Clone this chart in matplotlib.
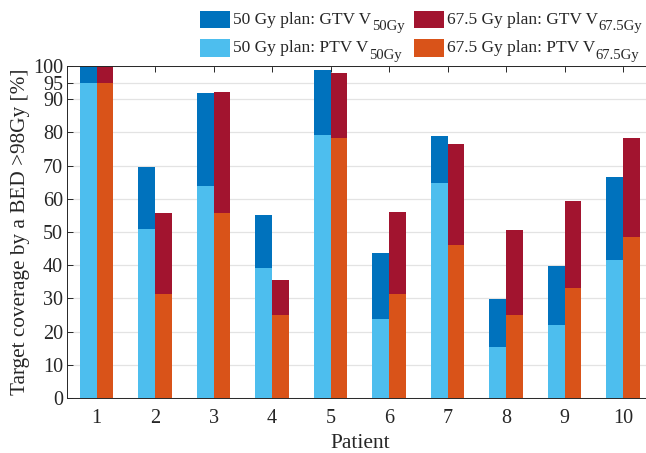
import matplotlib
matplotlib.use("Agg")
import matplotlib.pyplot as plt
import numpy as np
from matplotlib.patches import Rectangle

plt.rcParams.update({
    'font.family': 'Liberation Serif',
    'font.size': 12,
})

# data
patients = [1, 2, 3, 4, 5, 6, 7, 8, 9, 10]
gtv_50 = [100, 69.5, 91.8, 55.2, 98.9, 43.8, 78.9, 29.9, 39.8, 66.7]
ptv_50 = [95, 50.8, 64.0, 39.2, 79.2, 23.8, 64.7, 15.4, 22.1, 41.6]
gtv_675 = [100, 55.6, 92.3, 35.6, 97.8, 56.0, 76.4, 50.6, 59.3, 78.4]
ptv_675 = [95, 31.4, 55.6, 24.9, 78.4, 31.4, 46.0, 25.1, 33.1, 48.5]
y_ticks = [0, 10, 20, 30, 40, 50, 60, 70, 80, 90, 95, 100]

legend_main = ['50 Gy plan: GTV V', '50 Gy plan: PTV V',
               '67.5 Gy plan: GTV V', '67.5 Gy plan: PTV V']
legend_sub = ['50Gy', '50Gy', '67.5Gy', '67.5Gy']

C_GTV50 = '#0072BD'
C_PTV50 = '#4DBEEE'
C_GTV675 = '#A2142F'
C_PTV675 = '#D95319'
TXT = '#262626'

W, H = 646, 453
fig = plt.figure(figsize=(W / 100, H / 100), dpi=100)
ax = fig.add_axes([67.3 / W, 55 / H, 585 / W, 332 / H])

x = np.array(patients)
bw = 0.285
ax.bar(x - bw / 2, gtv_50, bw, color=C_GTV50, zorder=2)
ax.bar(x - bw / 2, ptv_50, bw, color=C_PTV50, zorder=3)
ax.bar(x + bw / 2, gtv_675, bw, color=C_GTV675, zorder=2)
ax.bar(x + bw / 2, ptv_675, bw, color=C_PTV675, zorder=3)

ax.set_xlim(0.5, 10.5)
ax.set_ylim(0, 100)
ax.set_xticks(patients)
ax.set_yticks(y_ticks)
ax.yaxis.grid(True, color='#e3e3e3', linewidth=0.9, zorder=0)
ax.set_axisbelow(True)
ax.tick_params(direction='in', top=True, right=False, length=4,
               colors=TXT, labelsize=14.5, width=0.7)
ax.tick_params(axis='y', pad=3)
ax.tick_params(axis='x', pad=8)
for s in ax.spines.values():
    s.set_color(TXT)
    s.set_linewidth(0.7)

ax.set_ylabel('Target coverage by a BED >98Gy [%]', fontsize=15.3,
              color=TXT, labelpad=2)
ax.set_xlabel('Patient', fontsize=15.5, color=TXT, labelpad=4)

# manual legend (two columns above the axes), pixel layout
colors = [C_GTV50, C_PTV50, C_GTV675, C_PTV675]
col_x = [200, 200, 414, 414]
row_top = [10.7, 39, 10.7, 39]
row_base = [23.8, 52.3, 23.8, 52.3]
fig.canvas.draw()
renderer = fig.canvas.get_renderer()
for i in range(4):
    fig.add_artist(Rectangle((col_x[i] / W, 1 - (row_top[i] + 17.6) / H),
                             30 / W, 17.6 / H, transform=fig.transFigure,
                             facecolor=colors[i], edgecolor='none'))
    t = fig.text((col_x[i] + 33) / W, 1 - row_base[i] / H, legend_main[i],
                 fontsize=12.5, color=TXT, va='baseline', ha='left')
    bb = t.get_window_extent(renderer)
    fig.text(bb.x1 / W + 0.5 / W, 1 - (row_base[i] + 6.5) / H, legend_sub[i],
             fontsize=10.5, color=TXT, va='baseline', ha='left')

fig.savefig('out.png', dpi=100)
